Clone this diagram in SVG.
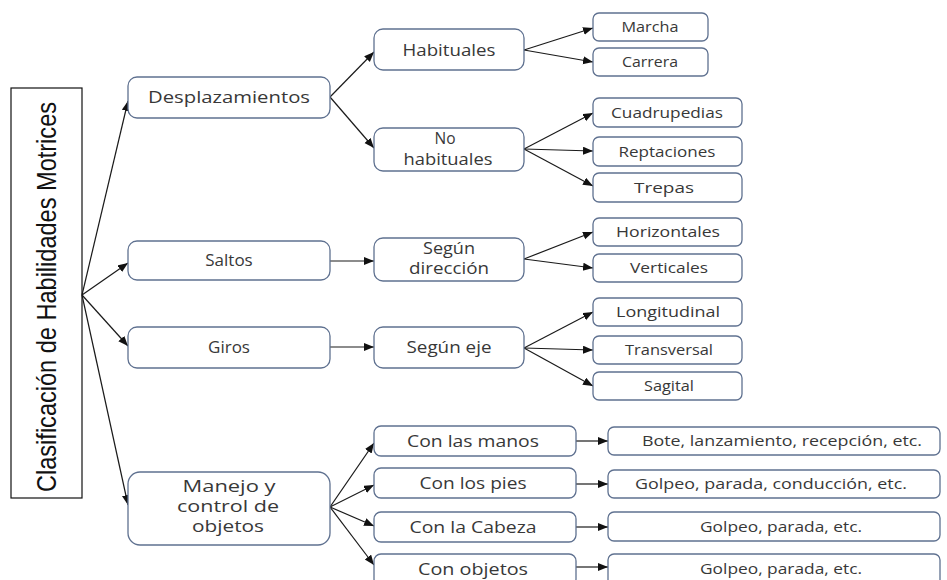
<svg xmlns="http://www.w3.org/2000/svg" width="947" height="580" viewBox="0 0 947 580">
<defs>
<marker id="ah" markerUnits="userSpaceOnUse" markerWidth="11" markerHeight="9" refX="10" refY="4" orient="auto">
<path d="M0,0 L10,4 L0,8 z" fill="#111"/>
</marker>
<style>
.b{fill:#fff;stroke:#5f7190;stroke-width:1.3}
.t{font-family:"Open Sans","DejaVu Sans",sans-serif;font-size:17px;fill:#383838;text-anchor:middle}
.m{font-family:"Open Sans","DejaVu Sans",sans-serif;font-size:15.5px;fill:#383838;text-anchor:middle}
.s{font-family:"Open Sans","DejaVu Sans",sans-serif;font-size:15px;fill:#383838;text-anchor:middle}
.c line{stroke:#1a1a1a;stroke-width:1.2;marker-end:url(#ah)}
</style>
</defs>
<rect width="947" height="580" fill="#fff"/>
<g id="title">
<rect x="11" y="88" width="71" height="410" fill="#fff" stroke="#111" stroke-width="1.2"/>
<text transform="translate(56,297) rotate(-90)" font-family="Liberation Sans, Arial, sans-serif" font-size="27" fill="#111" text-anchor="middle" textLength="390" lengthAdjust="spacingAndGlyphs">Clasificación de Habilidades Motrices</text>
</g>
<g class="c" id="connectors">
<line x1="82" y1="295" x2="128" y2="101"/>
<line x1="82" y1="295" x2="128" y2="263"/>
<line x1="82" y1="295" x2="128" y2="346"/>
<line x1="82" y1="295" x2="128" y2="505"/>
<line x1="330" y1="97" x2="374" y2="52"/>
<line x1="330" y1="97" x2="374" y2="148"/>
<line x1="524" y1="50" x2="593" y2="28"/>
<line x1="524" y1="50" x2="593" y2="62"/>
<line x1="524" y1="149" x2="593" y2="113"/>
<line x1="524" y1="149" x2="593" y2="151"/>
<line x1="524" y1="149" x2="593" y2="186"/>
<line x1="330" y1="261" x2="374" y2="261"/>
<line x1="524" y1="259" x2="593" y2="232"/>
<line x1="524" y1="259" x2="593" y2="268"/>
<line x1="330" y1="347" x2="374" y2="347"/>
<line x1="524" y1="348" x2="593" y2="312"/>
<line x1="524" y1="348" x2="593" y2="350"/>
<line x1="524" y1="348" x2="593" y2="386"/>
<line x1="330" y1="507" x2="374" y2="443"/>
<line x1="330" y1="507" x2="374" y2="485"/>
<line x1="330" y1="507" x2="374" y2="526"/>
<line x1="330" y1="507" x2="374" y2="565"/>
<line x1="576" y1="441" x2="608" y2="441"/>
<line x1="576" y1="484" x2="608" y2="484"/>
<line x1="576" y1="527" x2="608" y2="527"/>
<line x1="576" y1="567" x2="608" y2="567"/>
</g>
<g id="desplazamientos"><rect class="b" x="128" y="77" width="202" height="41" rx="9"/><text class="t" x="229" y="103" textLength="162" lengthAdjust="spacingAndGlyphs">Desplazamientos</text></g>
<g id="saltos"><rect class="b" x="128" y="241" width="202" height="39" rx="9"/><text class="t" x="229" y="266">Saltos</text></g>
<g id="giros"><rect class="b" x="128" y="327" width="202" height="41" rx="9"/><text class="t" x="229" y="353">Giros</text></g>
<g id="manejo"><rect class="b" x="128" y="472" width="202" height="73" rx="12"/>
<text class="m" x="229" y="492" textLength="93" lengthAdjust="spacingAndGlyphs">Manejo y</text>
<text class="m" x="228" y="512" textLength="102" lengthAdjust="spacingAndGlyphs">control de</text>
<text class="m" x="228" y="532" textLength="72" lengthAdjust="spacingAndGlyphs">objetos</text></g>
<g id="habituales"><rect class="b" x="374" y="29" width="150" height="41" rx="9"/><text class="t" x="449" y="56" textLength="93" lengthAdjust="spacingAndGlyphs">Habituales</text></g>
<g id="nohabituales"><rect class="b" x="374" y="128" width="150" height="43" rx="9"/>
<text class="m" x="445" y="144">No</text>
<text class="m" x="448" y="165" textLength="89" lengthAdjust="spacingAndGlyphs">habituales</text></g>
<g id="segundireccion"><rect class="b" x="374" y="238" width="150" height="43" rx="9"/>
<text class="m" x="449" y="254" textLength="52" lengthAdjust="spacingAndGlyphs">Según</text>
<text class="m" x="449" y="274" textLength="80" lengthAdjust="spacingAndGlyphs">dirección</text></g>
<g id="seguneje"><rect class="b" x="374" y="327" width="150" height="41" rx="9"/><text class="t" x="449" y="353" textLength="85" lengthAdjust="spacingAndGlyphs">Según eje</text></g>
<g id="marcha"><rect class="b" x="593" y="13" width="115" height="28" rx="6"/><text class="s" x="650" y="32" textLength="57" lengthAdjust="spacingAndGlyphs">Marcha</text></g>
<g id="carrera"><rect class="b" x="593" y="48" width="115" height="28" rx="6"/><text class="s" x="650" y="67" textLength="56" lengthAdjust="spacingAndGlyphs">Carrera</text></g>
<g id="cuadrupedias"><rect class="b" x="593" y="98" width="149" height="29" rx="6"/><text class="s" x="667" y="118" textLength="112" lengthAdjust="spacingAndGlyphs">Cuadrupedias</text></g>
<g id="reptaciones"><rect class="b" x="593" y="137" width="149" height="29" rx="6"/><text class="s" x="667" y="157" textLength="97" lengthAdjust="spacingAndGlyphs">Reptaciones</text></g>
<g id="trepas"><rect class="b" x="593" y="173" width="149" height="29" rx="6"/><text class="s" x="664" y="193" textLength="60" lengthAdjust="spacingAndGlyphs">Trepas</text></g>
<g id="horizontales"><rect class="b" x="593" y="218" width="149" height="28" rx="6"/><text class="s" x="668" y="237" textLength="104" lengthAdjust="spacingAndGlyphs">Horizontales</text></g>
<g id="verticales"><rect class="b" x="593" y="254" width="149" height="28" rx="6"/><text class="s" x="669" y="273" textLength="78" lengthAdjust="spacingAndGlyphs">Verticales</text></g>
<g id="longitudinal"><rect class="b" x="593" y="298" width="149" height="28" rx="6"/><text class="s" x="668" y="317" textLength="104" lengthAdjust="spacingAndGlyphs">Longitudinal</text></g>
<g id="transversal"><rect class="b" x="593" y="336" width="149" height="28" rx="6"/><text class="s" x="669" y="355" textLength="88" lengthAdjust="spacingAndGlyphs">Transversal</text></g>
<g id="sagital"><rect class="b" x="593" y="372" width="149" height="28" rx="6"/><text class="s" x="669" y="391" textLength="50" lengthAdjust="spacingAndGlyphs">Sagital</text></g>
<g id="conmanos"><rect class="b" x="374" y="426" width="202" height="30" rx="7"/><text class="t" x="473" y="447" textLength="132" lengthAdjust="spacingAndGlyphs">Con las manos</text></g>
<g id="conpies"><rect class="b" x="374" y="468" width="202" height="30" rx="7"/><text class="t" x="473" y="489" textLength="107" lengthAdjust="spacingAndGlyphs">Con los pies</text></g>
<g id="concabeza"><rect class="b" x="374" y="512" width="202" height="30" rx="7"/><text class="t" x="473" y="533" textLength="127" lengthAdjust="spacingAndGlyphs">Con la Cabeza</text></g>
<g id="conobjetos"><rect class="b" x="374" y="554" width="202" height="32" rx="7"/><text class="t" x="473" y="575" textLength="110" lengthAdjust="spacingAndGlyphs">Con objetos</text></g>
<g id="bote"><rect class="b" x="608" y="427" width="332" height="28" rx="6"/><text class="s" x="782" y="446" textLength="280" lengthAdjust="spacingAndGlyphs">Bote, lanzamiento, recepción, etc.</text></g>
<g id="golpeo1"><rect class="b" x="608" y="470" width="332" height="28" rx="6"/><text class="s" x="771" y="489" textLength="272" lengthAdjust="spacingAndGlyphs">Golpeo, parada, conducción, etc.</text></g>
<g id="golpeo2"><rect class="b" x="608" y="512" width="332" height="29" rx="6"/><text class="s" x="781" y="532" textLength="162" lengthAdjust="spacingAndGlyphs">Golpeo, parada, etc.</text></g>
<g id="golpeo3"><rect class="b" x="608" y="554" width="332" height="32" rx="6"/><text class="s" x="781" y="574" textLength="162" lengthAdjust="spacingAndGlyphs">Golpeo, parada, etc.</text></g>
</svg>
